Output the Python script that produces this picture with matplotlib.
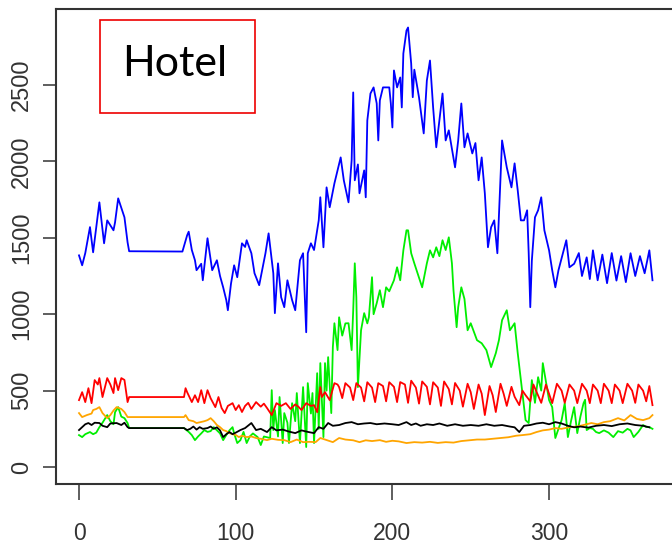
import matplotlib.pyplot as plt
from matplotlib.patches import Rectangle

blue_days = [0, 2, 4, 7, 9, 13, 16, 18, 22, 23, 25, 29, 31, 32, 66, 69, 70, 72, 74, 75,
             78, 79, 82, 85, 88, 90, 92, 94, 95, 97, 99, 101, 104, 106, 107, 110, 112, 115, 119, 121,
             124, 125, 127, 129, 131, 133, 136, 138, 141, 143, 145, 146, 148, 150, 153, 154, 156, 158, 160, 163,
             165, 167, 169, 172, 174, 175, 176, 178, 179, 182, 183, 184, 186, 188, 190, 191, 192, 194, 198, 199,
             200, 201, 203, 205, 206, 207, 209, 210, 212, 213, 214, 217, 220, 222, 224, 226, 228, 230, 232, 234,
             236, 240, 242, 244, 246, 248, 251, 253, 255, 257, 259, 261, 263, 265, 267, 269, 270, 273, 276, 278,
             280, 282, 284, 286, 287, 288, 289, 291, 293, 295, 297, 300, 302, 304, 306, 311, 313, 316, 319, 321,
             324, 326, 328, 331, 334, 337, 340, 343, 346, 349, 352, 355, 358, 361, 364, 366]
blue_vals = [1385, 1320, 1400, 1570, 1405, 1732, 1464, 1614, 1549, 1601, 1758, 1634, 1470, 1412, 1410, 1516, 1540, 1420, 1353, 1288,
             1330, 1222, 1497, 1288, 1353, 1250, 1176, 1092, 1026, 1200, 1320, 1242, 1464, 1440, 1484, 1399, 1268, 1190, 1399, 1529,
             1268, 1007, 1333, 1111, 1046, 1222, 1092, 1026, 1353, 1399, 882, 1399, 1464, 1420, 1614, 1765, 1438, 1830, 1700, 1856,
             1941, 2026, 1876, 1732, 2007, 2451, 1876, 1980, 1791, 1941, 1765, 2268, 2444, 2484, 2379, 2137, 2399, 2484, 2484, 2380,
             2222, 2595, 2484, 2549, 2353, 2706, 2856, 2876, 2640, 2420, 2600, 2418, 2183, 2529, 2660, 2353, 2092, 2268, 2444, 2137,
             2203, 1961, 2137, 2379, 2092, 2183, 2052, 2120, 1876, 2026, 1791, 1438, 1569, 1614, 1399, 1895, 2137, 1961, 1830, 1987,
             1810, 1614, 1614, 1680, 1399, 1046, 1350, 1634, 1680, 1765, 1549, 1418, 1288, 1176, 1288, 1484, 1307, 1330, 1400, 1250,
             1372, 1230, 1418, 1222, 1390, 1203, 1400, 1220, 1380, 1210, 1399, 1250, 1380, 1268, 1418, 1222]

red_days = [0, 2, 4, 6, 8, 10, 12, 13, 15, 18, 20, 22, 23, 25, 27, 29, 31, 32, 67, 68,
            69, 72, 74, 76, 78, 80, 82, 84, 87, 89, 91, 93, 95, 98, 100, 102, 104, 106, 108, 110,
            113, 116, 118, 120, 123, 126, 129, 132, 135, 138, 140, 142, 145, 148, 150, 152, 154, 155, 157, 160,
            163, 165, 166, 168, 170, 173, 175, 177, 180, 182, 184, 187, 189, 191, 194, 196, 198, 201, 203, 205,
            208, 210, 212, 215, 217, 219, 222, 224, 226, 229, 231, 233, 236, 238, 240, 243, 245, 248, 250, 252,
            255, 257, 259, 262, 264, 266, 269, 271, 273, 276, 278, 281, 283, 285, 288, 290, 295, 298, 302, 305,
            308, 310, 313, 316, 318, 321, 324, 326, 328, 331, 333, 335, 338, 340, 342, 345, 347, 350, 353, 355,
            357, 360, 362, 364, 366]
red_vals = [438, 490, 425, 516, 418, 569, 540, 582, 458, 582, 540, 484, 582, 503, 582, 570, 425, 458, 458, 516,
            490, 425, 470, 425, 503, 418, 503, 450, 392, 458, 386, 353, 400, 418, 373, 405, 360, 400, 420, 380,
            425, 395, 415, 386, 340, 418, 400, 418, 380, 410, 395, 373, 418, 400, 405, 359, 523, 458, 490, 438,
            549, 540, 523, 451, 549, 520, 438, 549, 520, 430, 555, 520, 425, 549, 530, 430, 555, 525, 425, 556,
            540, 420, 565, 520, 415, 560, 525, 410, 555, 520, 400, 560, 510, 410, 550, 500, 395, 545, 490, 380,
            540, 480, 340, 530, 470, 360, 545, 480, 400, 525, 460, 405, 500, 470, 430, 540, 420, 540, 418, 545,
            500, 420, 540, 500, 418, 545, 500, 418, 540, 500, 418, 545, 500, 418, 540, 500, 418, 545, 500, 420,
            540, 500, 430, 530, 405]

black_days = [0, 2, 4, 6, 8, 10, 13, 15, 18, 20, 24, 27, 29, 31, 32, 67, 69, 71, 73, 75,
              77, 79, 82, 84, 86, 88, 90, 92, 94, 96, 98, 100, 103, 106, 110, 113, 116, 120, 123, 126,
              130, 134, 138, 142, 146, 150, 153, 156, 159, 162, 166, 170, 174, 178, 182, 186, 190, 195, 200, 204,
              209, 212, 215, 218, 222, 226, 230, 235, 240, 245, 250, 255, 260, 265, 270, 275, 278, 281, 284, 288,
              292, 296, 300, 304, 308, 312, 316, 320, 325, 330, 335, 340, 345, 350, 355, 360, 364]
black_vals = [242, 261, 280, 288, 275, 290, 288, 270, 261, 285, 288, 275, 290, 261, 255, 255, 242, 250, 265, 245,
              261, 250, 255, 265, 250, 260, 240, 196, 215, 229, 215, 225, 242, 255, 288, 242, 250, 229, 261, 240,
              245, 232, 222, 240, 230, 222, 261, 250, 288, 270, 275, 288, 294, 280, 285, 288, 280, 285, 280, 275,
              294, 275, 285, 270, 280, 275, 285, 270, 280, 270, 275, 270, 280, 270, 275, 265, 260, 229, 270, 275,
              285, 290, 280, 294, 285, 270, 260, 265, 258, 270, 275, 268, 280, 285, 275, 270, 260]

orange_days = [0, 2, 5, 8, 9, 11, 13, 15, 18, 20, 22, 24, 27, 29, 31, 67, 68, 70, 73, 75,
               78, 80, 82, 84, 86, 88, 90, 92, 94, 96, 98, 100, 102, 104, 107, 110, 113, 116, 120, 123,
               127, 131, 135, 139, 143, 147, 151, 154, 157, 162, 166, 170, 175, 179, 183, 187, 192, 196, 200, 204,
               209, 214, 219, 224, 229, 234, 239, 244, 249, 254, 259, 264, 269, 274, 279, 283, 288, 292, 296, 300,
               304, 308, 313, 318, 322, 327, 331, 335, 339, 344, 348, 352, 356, 360, 364, 366]
orange_vals = [353, 327, 340, 350, 373, 380, 392, 353, 320, 340, 370, 392, 380, 360, 327, 327, 340, 307, 300, 288,
               295, 300, 307, 320, 300, 275, 261, 242, 235, 222, 215, 210, 196, 205, 196, 200, 190, 185, 176, 185,
               178, 176, 163, 180, 163, 165, 163, 190, 180, 163, 190, 180, 175, 163, 175, 170, 176, 165, 172, 168,
               157, 163, 160, 165, 158, 163, 160, 170, 175, 180, 180, 185, 190, 195, 205, 209, 215, 229, 240, 245,
               255, 250, 261, 265, 275, 288, 280, 294, 300, 320, 305, 340, 315, 307, 320, 340]

green_days = [0, 2, 4, 7, 9, 11, 13, 15, 18, 20, 22, 23, 25, 27, 29, 31, 32, 67, 70, 72,
              74, 76, 78, 80, 82, 84, 86, 88, 90, 92, 94, 96, 98, 99, 101, 103, 105, 107, 109, 111,
              114, 116, 118, 122, 123, 124, 125, 127, 128, 130, 131, 133, 134, 136, 138, 139, 141, 143, 145, 146,
              148, 149, 150, 152, 153, 154, 156, 157, 158, 159, 161, 162, 163, 165, 166, 168, 170, 172, 174, 175,
              176, 177, 178, 180, 182, 184, 185, 187, 188, 190, 192, 194, 196, 198, 201, 203, 205, 207, 209, 210,
              212, 214, 219, 222, 224, 226, 228, 230, 232, 234, 236, 238, 239, 241, 242, 244, 246, 248, 250, 254,
              257, 260, 263, 266, 268, 270, 273, 275, 278, 280, 283, 285, 287, 289, 291, 293, 295, 296, 298, 300,
              302, 303, 304, 306, 308, 310, 312, 314, 316, 318, 320, 322, 323, 324, 326, 328, 330, 332, 335, 338,
              341, 344, 347, 350, 352, 354, 357, 360, 362, 364, 366]
green_vals = [209, 196, 215, 229, 215, 225, 261, 290, 340, 300, 280, 359, 392, 330, 320, 288, 255, 255, 230, 209,
              176, 200, 220, 242, 230, 235, 261, 240, 220, 176, 210, 240, 261, 220, 157, 176, 230, 157, 200, 220,
              196, 144, 200, 190, 503, 242, 373, 200, 458, 157, 353, 290, 157, 418, 300, 484, 157, 523, 131, 549,
              350, 484, 157, 614, 250, 680, 196, 680, 500, 719, 353, 784, 941, 765, 980, 860, 940, 941, 765, 1026,
              1333, 1111, 523, 895, 1007, 940, 980, 1242, 1000, 1072, 1157, 1046, 1176, 1150, 1222, 1307, 1222, 1418, 1549, 1549,
              1399, 1333, 1176, 1333, 1418, 1372, 1438, 1380, 1484, 1420, 1503, 1333, 1157, 915, 1046, 1176, 1100, 895, 941, 830,
              810, 765, 654, 745, 830, 961, 1026, 895, 941, 745, 484, 307, 288, 569, 420, 588, 500, 680, 560, 438,
              392, 288, 190, 250, 307, 418, 196, 300, 392, 222, 330, 418, 440, 242, 255, 250, 229, 222, 240, 225,
              196, 235, 225, 250, 240, 196, 230, 275, 262, 261, 250]

x_ticks = [0, 100, 200, 300]
y_ticks = [0, 500, 1000, 1500, 2000, 2500]

fig = plt.figure(figsize=(6.72, 5.45), dpi=100)
ax = fig.add_axes([0.0833, 0.1119, 0.9196, 0.8716])

ax.plot(blue_days, blue_vals, color='#0000ff', lw=1.3)
ax.plot(green_days, green_vals, color='#00ee00', lw=1.3)
ax.plot(red_days, red_vals, color='#ff0000', lw=1.3)
ax.plot(orange_days, orange_vals, color='#ffa500', lw=1.3)
ax.plot(black_days, black_vals, color='black', lw=1.3)

ax.set_xlim(-14.7, 379.7)
ax.set_ylim(-111, 2997)
ax.set_xticks(x_ticks)
ax.set_yticks(y_ticks)

ax.set_xticklabels([str(v) for v in x_ticks], family='Liberation Sans', size=16.5, color='#333333')
ax.set_yticklabels([str(v) for v in y_ticks], family='Liberation Sans', size=17, color='#333333',
                   rotation=90, va='center')
ax.tick_params(axis='x', length=11.5, width=1.1, pad=16, color='#333333')
ax.tick_params(axis='y', length=9.5, width=1.1, pad=7, color='#333333')

for side in ['left', 'bottom', 'top', 'right']:
    ax.spines[side].set_linewidth(1.5)
    ax.spines[side].set_color('#333333')

# title box
fig.patches.append(Rectangle((0.149, 0.7927), 0.2306, 0.1706, transform=fig.transFigure,
                             fill=False, edgecolor='#ee0000', lw=1.2))
fig.text(0.1815, 0.8606, 'Hotel', fontsize=31, family='Lato', va='baseline', ha='left')

fig.savefig('out.png', dpi=100)
